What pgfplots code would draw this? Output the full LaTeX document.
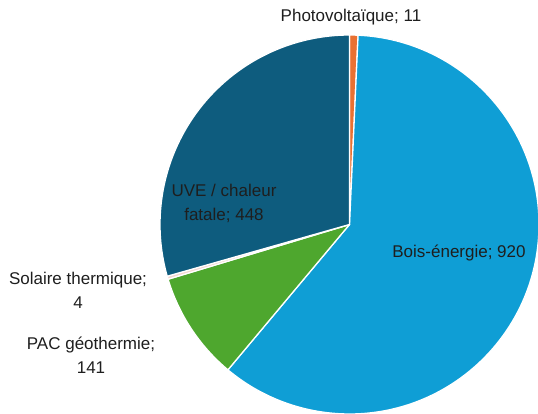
\documentclass[border=0pt]{standalone}
\usepackage{pgfplots}
\usepackage{pgfplotstable}
\pgfplotsset{compat=1.18}
\usepackage{fontspec}
\setmainfont{Liberation Sans}
\definecolor{cPV}{HTML}{E97132}
\definecolor{cBois}{HTML}{0F9ED5}
\definecolor{cPAC}{HTML}{4EA72E}
\definecolor{cSol}{HTML}{F4D6D0}
\definecolor{cUVE}{HTML}{0E5C7E}
\definecolor{txt}{HTML}{1E1E1E}
\pgfplotstableread{
value
11
920
141
4
448
}\piedata
\begin{document}
\begin{tikzpicture}
\pgfplotstablegetelem{0}{value}\of\piedata \let\vA\pgfplotsretval
\pgfplotstablegetelem{1}{value}\of\piedata \let\vB\pgfplotsretval
\pgfplotstablegetelem{2}{value}\of\piedata \let\vC\pgfplotsretval
\pgfplotstablegetelem{3}{value}\of\piedata \let\vD\pgfplotsretval
\pgfplotstablegetelem{4}{value}\of\piedata \let\vE\pgfplotsretval
\pgfmathsetmacro\tot{\vA+\vB+\vC+\vD+\vE}
\pgfmathsetmacro\k{360/\tot}
\pgfmathsetmacro\aA{90}
\pgfmathsetmacro\aB{\aA-\k*\vA}
\pgfmathsetmacro\aC{\aB-\k*\vB}
\pgfmathsetmacro\aD{\aC-\k*\vC}
\pgfmathsetmacro\aE{\aD-\k*\vD}
\pgfmathsetmacro\aF{\aE-\k*\vE}
\begin{axis}[hide axis, scale only axis, width=538pt, height=414pt,
  xmin=0, xmax=538, ymin=0, ymax=414, clip=false]
\addplot[draw=none] coordinates {(0,0) (538,414)};
\tikzset{wedge/.style={draw=white, line width=1.3pt, line join=round}}
\def\cx{349.5}\def\cy{189.5}\def\R{189.5pt}
\fill[cPV, wedge] (axis cs:\cx,\cy) -- +(\aA:\R) arc[start angle=\aA, end angle=\aB, radius=\R] -- cycle;
\fill[cBois, wedge] (axis cs:\cx,\cy) -- +(\aB:\R) arc[start angle=\aB, end angle=\aC, radius=\R] -- cycle;
\fill[cPAC, wedge] (axis cs:\cx,\cy) -- +(\aC:\R) arc[start angle=\aC, end angle=\aD, radius=\R] -- cycle;
\fill[cSol, wedge] (axis cs:\cx,\cy) -- +(\aD:\R) arc[start angle=\aD, end angle=\aE, radius=\R] -- cycle;
\fill[cUVE, wedge] (axis cs:\cx,\cy) -- +(\aE:\R) arc[start angle=\aE, end angle=\aF, radius=\R] -- cycle;
\tikzset{lab/.style={text=txt, align=center, inner sep=0pt, font=\fontsize{17}{24}\selectfont}}
\node[lab] at (axis cs:351,397) {Photovoltaïque; 11};
\node[lab] at (axis cs:224,211) {UVE / chaleur\\fatale; 448};
\node[lab] at (axis cs:459,161) {Bois-énergie; 920};
\node[lab] at (axis cs:78,123.5) {Solaire thermique;\\4};
\node[lab] at (axis cs:91,59) {PAC géothermie;\\141};
\coordinate (bbSW) at (axis cs:0,0);
\coordinate (bbNE) at (axis cs:538,414);
\end{axis}
\pgfresetboundingbox
\path[use as bounding box] (bbSW) rectangle (bbNE);
\end{tikzpicture}
\end{document}
